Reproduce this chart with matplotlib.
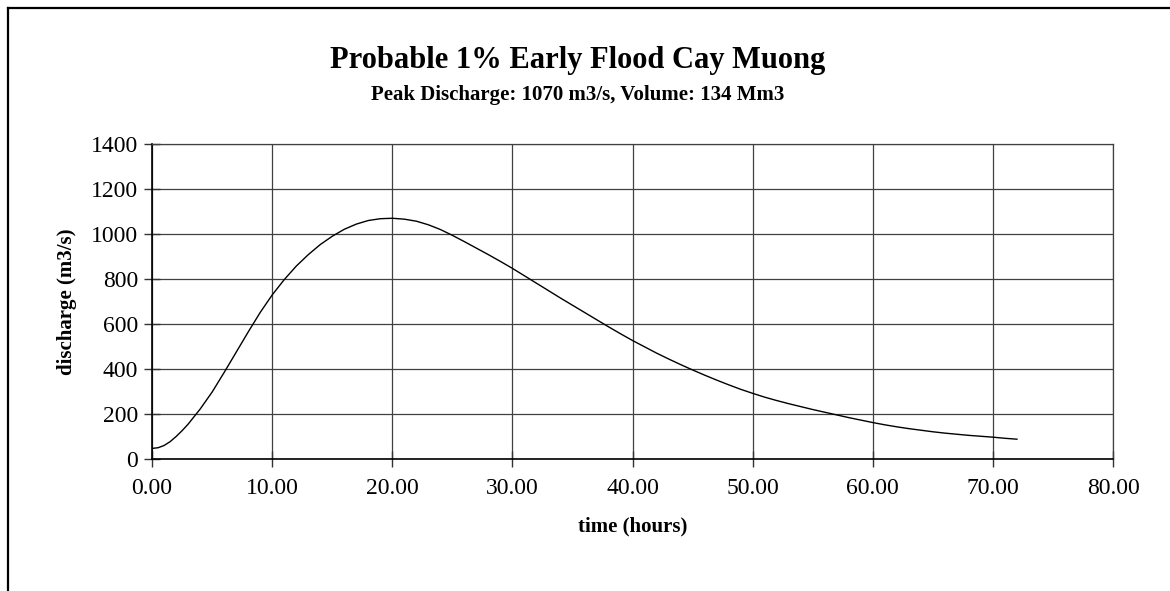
import matplotlib
matplotlib.use("Agg")
import matplotlib.pyplot as plt
from matplotlib.lines import Line2D

# Data
time_h = [0, 0.5, 1, 1.5, 2, 2.5, 3, 4, 5, 6, 7, 8, 9, 10, 11, 12, 13, 14, 15,
          16, 17, 18, 19, 20, 21, 22, 23, 24, 25, 26, 27, 28, 29, 30, 31, 32,
          33, 34, 35, 36, 37, 38, 39, 40, 41, 42, 43, 44, 45, 46, 47, 48, 49,
          50, 51, 52, 53, 54, 55, 56, 57, 58, 59, 60, 61, 62, 63, 64, 65, 66,
          67, 68, 69, 70, 71, 72]
discharge = [47, 50, 60, 77, 100, 126, 155, 222, 298, 385, 475, 565, 652, 730,
             798, 858, 909, 954, 991, 1022, 1045, 1061, 1069, 1071, 1067, 1058,
             1042, 1021, 995, 967, 938, 909, 879, 848, 815, 782, 749, 716, 684,
             652, 620, 588, 557, 527, 499, 471, 445, 420, 396, 373, 351, 330, 310,
             292, 275, 260, 246, 233, 220, 208, 196, 184, 173, 162, 152, 143, 135,
             128, 121, 115, 110, 105, 101, 97, 92, 88]
x_ticks = [0, 10, 20, 30, 40, 50, 60, 70, 80]
y_ticks = [0, 200, 400, 600, 800, 1000, 1200, 1400]

title = "Probable 1% Early Flood Cay Muong"
subtitle = "Peak Discharge: 1070 m3/s, Volume: 134 Mm3"

plt.rcParams['font.family'] = ['Liberation Serif', 'DejaVu Serif']

fig = plt.figure(figsize=(11.70, 5.91), dpi=100)
ax = fig.add_axes([0.130, 0.2234, 0.8213, 0.5324])

ax.plot(time_h, discharge, color='black', lw=1.0, solid_joinstyle='round')

ax.set_xlim(0, 80)
ax.set_ylim(0, 1400)
ax.set_xticks(x_ticks)
ax.set_yticks(y_ticks)
ax.set_xticklabels([f"{v:.2f}" for v in x_ticks])
ax.set_yticklabels([str(v) for v in y_ticks])
ax.grid(True, color='#404040', lw=0.9)
ax.set_axisbelow(True)
ax.tick_params(axis='both', direction='inout', length=12, width=1.0,
               labelsize=17, color='#333333')
ax.tick_params(axis='x', pad=8)
ax.tick_params(axis='y', pad=4)
for side in ['top', 'right']:
    ax.spines[side].set_color('#404040')
    ax.spines[side].set_linewidth(0.9)
for side in ['left', 'bottom']:
    ax.spines[side].set_color('black')
    ax.spines[side].set_linewidth(1.2)

ax.set_xlabel("time (hours)", fontsize=15, fontweight='bold', labelpad=12)
ax.set_ylabel("discharge (m3/s)", fontsize=15, fontweight='bold', labelpad=10)

fig.text(0.494, 0.898, title, ha='center', va='center', fontsize=22, fontweight='bold')
fig.text(0.494, 0.840, subtitle, ha='center', va='center', fontsize=15, fontweight='bold')

# Outer chart border (top and left visible)
fig.add_artist(Line2D([7.5/1170, 1.05], [1 - 8/591, 1 - 8/591], transform=fig.transFigure,
                      color='black', lw=1.6))
fig.add_artist(Line2D([7.5/1170, 7.5/1170], [1 - 8/591, -0.05], transform=fig.transFigure,
                      color='black', lw=1.6))

fig.savefig("out.png", dpi=100)
